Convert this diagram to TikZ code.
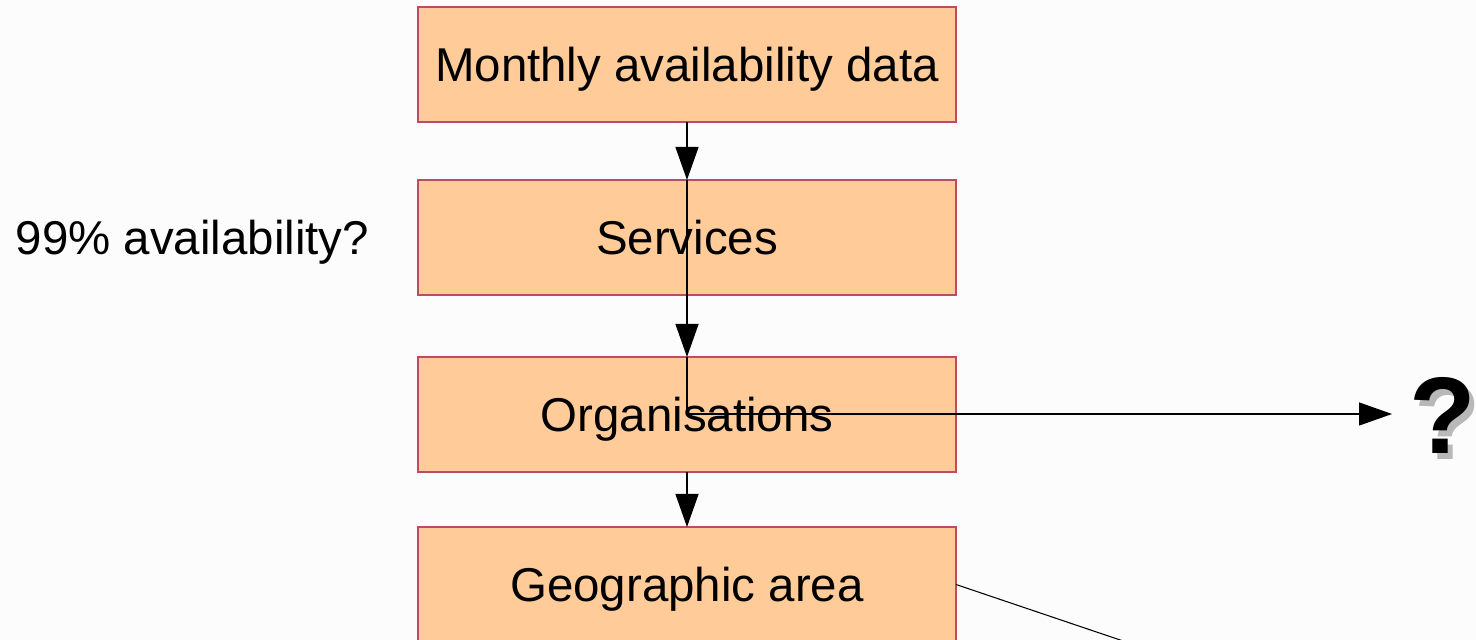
\documentclass[tikz,border=0pt]{standalone}
\usepackage{fontspec}
\setmainfont{Liberation Sans}
\usetikzlibrary{arrows.meta, positioning}
\definecolor{boxfill}{RGB}{255,204,153}
\definecolor{boxline}{RGB}{190,75,100}
\definecolor{pagebg}{RGB}{252,252,252}

\begin{document}
\begin{tikzpicture}[>={Triangle[length=0.66cm, width=0.46cm]}, line width=0.75pt,
  box/.style={draw=boxline, line width=0.6pt, fill=boxfill, outer sep=0pt,
              minimum width=10.76cm, minimum height=2.3cm,
              text height=19.3pt, text depth=0pt,
              font=\fontsize{27}{32}\selectfont},
  label text/.style={font=\fontsize{27}{32}\selectfont,
                     text height=19.3pt, text depth=0pt},
  quest/.style={font=\bfseries\fontsize{62}{66}\selectfont, inner sep=0pt}]

\clip (0,0) rectangle (29.52,-12.8);
\fill[pagebg] (0,0) rectangle (29.52,-12.8);

% the chain of boxes
\node[box] (monthly) at (13.74,-1.29) {Monthly availability data};
\node[box, below=1.16cm of monthly] (services) {Services};
\node[box, below=1.24cm of services] (orgs) {Organisations};
\node[box, below=1.1cm of orgs] (geo) {Geographic area};

\node[label text] (goal) at (3.85,-4.75) {99\% availability?};

% question mark with its shadow
\node[quest, text=black!28] (qshadow) at (28.95,-8.42) {?};
\node[quest] (qmark) at (28.85,-8.3) {?};

\coordinate (qin) at (27.84,-8.28);
\coordinate (geoout) at (24,-13.34);

\draw[->] (monthly.south) -- (services.north);
\draw[->] (services.north) -- (orgs.north);
\draw[->] (orgs.north) |- (qin);
\draw[->] (orgs.south) -- (geo.north);
\draw[line width=0.6pt] (geo.east) -- (geoout);

\end{tikzpicture}
\end{document}
